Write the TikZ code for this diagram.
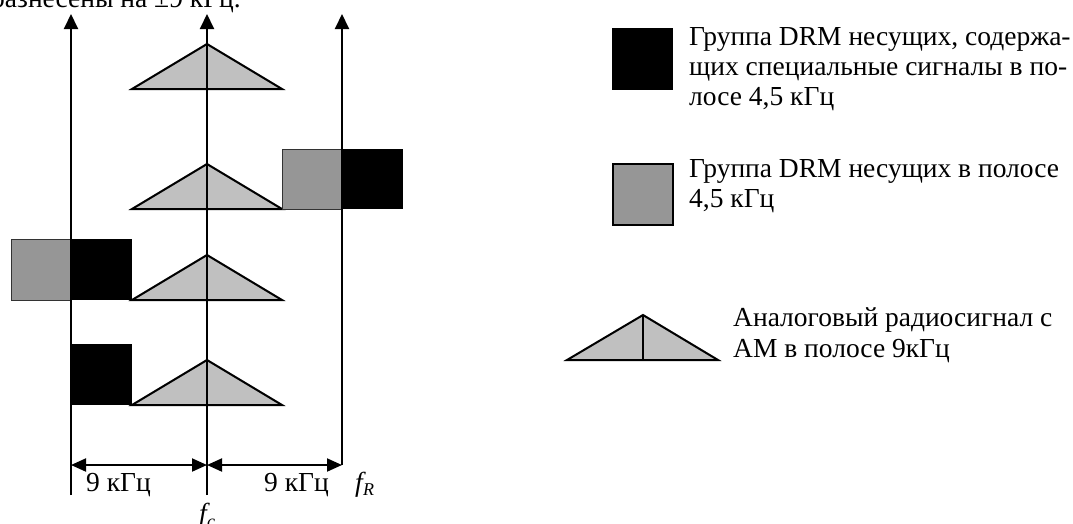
\documentclass[tikz,border=0pt]{standalone}
\usepackage{fontspec}
\setmainfont{Liberation Serif}
\usetikzlibrary{arrows.meta}
\definecolor{trigray}{RGB}{192,192,192}
\definecolor{sqgray}{RGB}{150,150,150}
\begin{document}
\begin{tikzpicture}[x=1pt,y=-1pt,
  axis/.style={line width=2pt,-{Triangle[length=15pt,width=14pt]}},
  dim/.style={line width=2pt,{Triangle[length=15pt,width=13pt]}-{Triangle[length=15pt,width=13pt]}},
  tri/.style={fill=trigray,draw=black,line width=2pt,line join=miter},
  blk/.style={fill=black},
  gry/.style={fill=sqgray,draw=black!80,line width=1pt},
  lgry/.style={fill=sqgray,draw=black,line width=2pt},
  lbl/.style={font=\fontsize{27.5}{31}\selectfont,inner sep=0pt},
  sub/.style={font=\fontsize{18}{20}\selectfont\itshape,inner sep=0pt}]
\useasboundingbox (0,0) rectangle (1073,523);
\clip (0,0) rectangle (1073,523);
% top cut-off text
\node[lbl,anchor=base east] (title) at (241,7) {разнесены на ±9 кГц.};
% triangles (analog AM signal)
\filldraw[tri] (132,89) -- (207,44) -- (282,89) -- cycle;
\filldraw[tri] (132,209) -- (207,164) -- (282,209) -- cycle;
\filldraw[tri] (132,300) -- (207,255) -- (282,300) -- cycle;
\filldraw[tri] (132,405) -- (207,360) -- (282,405) -- cycle;
% DRM carrier groups
\filldraw[gry] (282,149) rectangle (342,209);
\fill[blk] (342,149) rectangle (403,209);
\filldraw[gry] (11,239) rectangle (71,300);
\fill[blk] (71,239) rectangle (132,300);
\fill[blk] (71,344) rectangle (132,405);
% axes
\coordinate (L0) at (71,495);  \coordinate (L1) at (71,14);
\coordinate (C0) at (207,495); \coordinate (C1) at (207,14);
\coordinate (R0) at (342,465); \coordinate (R1) at (342,14);
\draw[axis] (L0) -- (L1);
\draw[axis] (C0) -- (C1);
\draw[axis] (R0) -- (R1);
% dimension arrows
\coordinate (DL) at (71,465); \coordinate (DC) at (207,465); \coordinate (DR) at (342,465);
\draw[dim] (DL) -- (DC);
\draw[dim] (DC) -- (DR);
\node[lbl,anchor=base west] (w1) at (86,491) {9 кГц};
\node[lbl,anchor=base west] (w2) at (264,491) {9 кГц};
\node[lbl,anchor=base west] (fR) at (355,491) {\itshape f};
\node[sub,anchor=base west] (fRs) at (fR.base east) [yshift=-4pt] {R};
\node[lbl,anchor=base west] (fc) at (199,522) {\itshape f};
\node[sub,anchor=base west] (fcs) at (fc.base east) [yshift=-5pt] {c};
% legend
\fill[blk] (612,28) rectangle (673,90);
\node[lbl,anchor=base west] (t1a) at (689,45) {Группа DRM несущих, содержа-};
\node[lbl,anchor=base west] (t1b) at (689,75) {щих специальные сигналы в по-};
\node[lbl,anchor=base west] (t1c) at (689,105) {лосе 4,5 кГц};
\filldraw[lgry] (613,164) rectangle (673,225);
\node[lbl,anchor=base west] (t2a) at (689,177) {Группа DRM несущих в полосе};
\node[lbl,anchor=base west] (t2b) at (689,207) {4,5 кГц};
\filldraw[tri] (567,360) -- (643,315) -- (718,360) -- cycle;
\draw[line width=2pt] (643,315) -- (643,360);
\node[lbl,anchor=base west] (t3a) at (733,326) {Аналоговый радиосигнал с};
\node[lbl,anchor=base west] (t3b) at (733,357) {АМ в полосе 9кГц};
\end{tikzpicture}
\end{document}
